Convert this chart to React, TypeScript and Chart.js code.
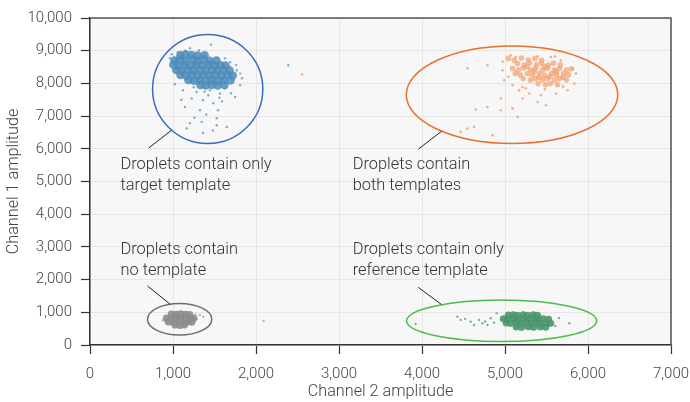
import React, { useEffect, useRef } from 'react';
import { Chart, registerables } from 'chart.js';

Chart.register(...registerables);

type Pt = [number, number];

const xAxisTitle = 'Channel 2 amplitude';
const yAxisTitle = 'Channel 1 amplitude';
const xMin = 0, xMax = 7000, xStep = 1000;
const yMin = 0, yMax = 10000, yStep = 1000;

// Target-only cluster (blue)
const targetCore: Pt[] = [
  [1090, 8860], [1150, 8880], [1222, 8870], [1296, 8850], [1380, 8860],
  [1018, 8700], [1080, 8725], [1150, 8680], [1235, 8730], [1296, 8690], [1370, 8720], [1440, 8690], [1522, 8700],
  [1005, 8570], [1065, 8540], [1140, 8575], [1212, 8540], [1282, 8568], [1355, 8540], [1430, 8570], [1500, 8545], [1572, 8555], [1632, 8545],
  [1040, 8410], [1104, 8390], [1176, 8420], [1248, 8392], [1320, 8410], [1392, 8398], [1465, 8412], [1538, 8392], [1610, 8410], [1680, 8400],
  [1090, 8255], [1160, 8235], [1225, 8260], [1298, 8240], [1370, 8258], [1442, 8240], [1515, 8262], [1586, 8236], [1658, 8256], [1720, 8240],
  [1186, 8105], [1250, 8085], [1320, 8105], [1394, 8088], [1466, 8106], [1540, 8085], [1610, 8104], [1694, 8094],
  [1330, 7950], [1395, 7935], [1466, 7955], [1538, 7935], [1620, 7950],
];
const targetScatter: Pt[] = [
  [1458, 9186], [1225, 7537], [1361, 7485], [1486, 7393], [1325, 7179], [1543, 7179], [1204, 6782], [1346, 6822],
  [1527, 6935], [1648, 6669], [1361, 6486], [1165, 6620], [1527, 6721], [1748, 7586], [1808, 7943], [1144, 7280],
  [1285, 7738], [1425, 7638], [1567, 7689], [1769, 8401], [963, 8768], [1059, 8951], [1204, 9073], [1313, 9012],
  [1627, 8768], [1688, 8646], [1120, 7790], [1023, 7973], [1832, 8157], [1627, 7851], [1446, 7790], [1400, 7050],
  [1260, 6950], [1480, 6560], [1590, 7450], [1100, 7500], [2388, 8554], [1250, 7880], [1560, 7560], [1700, 7700],
  [985, 8890], [1150, 9000], [1760, 8560], [1810, 8300], [1380, 7750],
];

// Both-templates cluster (orange)
const bothCore: Pt[] = [
  [5040, 8760], [5110, 8705], [5196, 8775], [5280, 8715], [5360, 8760], [5440, 8710],
  [5150, 8610], [5232, 8560], [5296, 8625], [5380, 8570], [5440, 8612], [5525, 8560], [5585, 8620], [5668, 8570],
  [5090, 8455], [5160, 8410], [5220, 8470], [5306, 8418], [5368, 8460], [5452, 8405], [5512, 8462], [5596, 8418], [5656, 8458], [5742, 8412], [5800, 8450],
  [5125, 8300], [5185, 8255], [5270, 8305], [5330, 8258], [5415, 8300], [5475, 8250], [5560, 8298], [5620, 8256], [5705, 8300], [5765, 8262],
  [5220, 8150], [5306, 8105], [5366, 8150], [5452, 8108], [5510, 8150], [5596, 8102], [5656, 8148], [5740, 8110],
  [5400, 7995], [5488, 7955], [5548, 7995], [5632, 7955],
  [5260, 8520], [5480, 8520], [5620, 8360], [5350, 8360], [5540, 8200], [5410, 8190], [5700, 8190],
];
const bothScatter: Pt[] = [
  [4970, 8660], [5070, 8860], [5130, 8808], [5393, 8829], [4970, 8401], [4990, 8096], [5090, 7943], [5170, 7790],
  [5211, 7537], [5393, 7433], [5493, 7332], [5614, 7689], [5755, 7790], [5835, 7995], [5855, 8300], [5815, 8453],
  [5674, 8707], [5553, 8808], [4950, 7537], [4950, 7179], [5090, 7231], [5151, 6975], [4788, 7280], [4647, 7200],
  [4547, 8462], [4788, 8554], [4627, 6669], [4547, 6620], [4466, 6517], [4849, 6416], [5291, 7689], [5432, 7638],
  [5211, 7891], [5040, 8200], [5700, 7900], [2554, 8279], [5250, 7850], [5480, 7820], [5600, 8820],
];

// No-template cluster (gray)
const noneCore: Pt[] = [
  [980, 945], [1038, 935], [1094, 952], [1150, 940], [1200, 930],
  [920, 820], [978, 835], [1034, 815], [1092, 832], [1150, 818], [1210, 830], [1250, 815],
  [944, 705], [1000, 692], [1058, 712], [1118, 696], [1178, 708], [1226, 695],
  [1025, 615], [1085, 600], [1140, 618],
];
const noneScatter: Pt[] = [
  [1325, 917], [1365, 865], [1285, 794], [1270, 930], [880, 760], [2090, 733],
];

// Reference-only cluster (green)
const refCore: Pt[] = [
  [5040, 912], [5098, 925], [5150, 905], [5220, 922], [5272, 908], [5340, 925], [5392, 905],
  [4980, 800], [5030, 785], [5098, 805], [5150, 788], [5220, 802], [5270, 785], [5340, 805], [5390, 788], [5460, 802], [5525, 785],
  [5015, 676], [5066, 662], [5135, 682], [5186, 665], [5255, 680], [5308, 662], [5376, 682], [5428, 664], [5497, 680], [5550, 662],
  [5135, 556], [5198, 545], [5280, 560], [5344, 546], [5425, 558], [5490, 548],
];
const refScatter: Pt[] = [
  [4426, 865], [4466, 764], [4587, 712], [4627, 611], [4687, 764], [4728, 663], [4788, 611], [4828, 816],
  [4868, 681], [3922, 642], [5774, 663], [5605, 580], [5650, 825], [4900, 968], [4520, 800], [4760, 720],
];

// Ellipse annotations: centre and radii in data units
const ellipseCenters: Pt[] = [[1418, 7827], [5085, 7653], [1080, 788], [4959, 739]];
const ellipseRadii: Pt[] = [[664, 1665], [1274, 1491], [387, 483], [1145, 635]];
const ellipseColors = ['#3a6dbf', '#e8702a', '#6e6e6e', '#4dbb4d'];

// Labels
const labelLines: string[][] = [
  ['Droplets contain only', 'target template'],
  ['Droplets contain', 'both templates'],
  ['Droplets contain', 'no template'],
  ['Droplets contain only', 'reference template'],
];
const labelAnchors: Pt[] = [[367, 5368], [3165, 5368], [367, 2771], [3165, 2771]];
const leaderStarts: Pt[] = [[709, 6028], [3955, 5988], [693, 1802], [3955, 1763]];
const leaderEnds: Pt[] = [[983, 6568], [4236, 6538], [963, 1253], [4233, 1243]];

const FONT = 'Roboto, "Liberation Sans", Arial, sans-serif';
const toXY = (arr: Pt[]) => arr.map(([x, y]) => ({ x, y }));

const decorPlugin = {
  id: 'decor',
  beforeDraw(chart: any) {
    const { ctx, chartArea: a } = chart;
    ctx.save();
    ctx.fillStyle = '#f7f7f7';
    ctx.fillRect(a.left, a.top, a.right - a.left, a.bottom - a.top);
    ctx.restore();
  },
  afterDatasetsDraw(chart: any) {
    const { ctx, chartArea: a } = chart;
    const xs = chart.scales.x;
    const ys = chart.scales.y;
    ctx.save();
    ctx.strokeStyle = '#555';
    ctx.lineWidth = 1.5;
    ctx.beginPath();
    ctx.moveTo(a.left, a.top);
    ctx.lineTo(a.right, a.top);
    ctx.lineTo(a.right, a.bottom);
    ctx.stroke();

    ellipseCenters.forEach(([cx, cy], i) => {
      const px = xs.getPixelForValue(cx);
      const py = ys.getPixelForValue(cy);
      const rx = Math.abs(xs.getPixelForValue(cx + ellipseRadii[i][0]) - px);
      const ry = Math.abs(ys.getPixelForValue(cy + ellipseRadii[i][1]) - py);
      ctx.beginPath();
      ctx.ellipse(px, py, rx, ry, 0, 0, Math.PI * 2);
      ctx.strokeStyle = ellipseColors[i];
      ctx.lineWidth = 1.5;
      ctx.stroke();
    });

    ctx.strokeStyle = '#222';
    ctx.lineWidth = 1;
    leaderStarts.forEach(([sx, sy], i) => {
      ctx.beginPath();
      ctx.moveTo(xs.getPixelForValue(sx), ys.getPixelForValue(sy));
      ctx.lineTo(xs.getPixelForValue(leaderEnds[i][0]), ys.getPixelForValue(leaderEnds[i][1]));
      ctx.stroke();
    });

    ctx.fillStyle = '#333';
    ctx.font = `300 16.4px ${FONT}`;
    ctx.textAlign = 'left';
    ctx.textBaseline = 'alphabetic';
    labelLines.forEach((lines, i) => {
      const lx = xs.getPixelForValue(labelAnchors[i][0]);
      const ly = ys.getPixelForValue(labelAnchors[i][1]);
      lines.forEach((t, j) => ctx.fillText(t, lx, ly + j * 20.8));
    });
    ctx.restore();
  },
};

export default function App() {
  const ref = useRef<HTMLCanvasElement | null>(null);
  useEffect(() => {
    document.body.style.margin = '0';
    const canvas = ref.current!;
    const pts = (data: Pt[], color: string, r: number) => ({
      data: toXY(data),
      backgroundColor: color,
      borderWidth: 0,
      pointRadius: r,
      pointHoverRadius: r,
    });
    const tickFont = { family: FONT, size: 15, weight: '300' as any };
    const titleFont = { family: FONT, size: 16.2, weight: '300' as any };
    const fmt = (v: any) => Number(v).toLocaleString('en-US');
    const chart = new Chart(canvas, {
      type: 'scatter',
      data: {
        datasets: [
          pts(targetScatter, 'rgba(80,140,185,0.7)', 1.2),
          pts(targetCore, 'rgba(78,140,184,0.85)', 4.3),
          pts(bothScatter, 'rgba(242,150,95,0.75)', 1.3),
          pts(bothCore, 'rgba(243,160,108,0.7)', 2.8),
          pts(noneScatter, 'rgba(140,140,140,0.6)', 1.2),
          pts(noneCore, 'rgba(140,140,140,0.9)', 3.6),
          pts(refScatter, 'rgba(76,150,108,0.7)', 1.2),
          pts(refCore, 'rgba(74,150,108,0.9)', 3.6),
        ],
      },
      options: {
        responsive: false,
        animation: false,
        events: [],
        layout: { padding: { left: 0, right: 1, top: 18, bottom: 0 } },
        plugins: { legend: { display: false }, tooltip: { enabled: false } },
        scales: {
          x: {
            type: 'linear',
            min: xMin,
            max: xMax,
            ticks: { stepSize: xStep, color: '#444', font: tickFont, padding: 11, callback: fmt, maxRotation: 0 },
            grid: { color: '#e6e6e6', lineWidth: 1, tickColor: '#333', tickLength: 9, tickWidth: 1.2 },
            border: { color: '#333', width: 1.5 },
            title: { display: true, text: xAxisTitle, color: '#444', font: titleFont, padding: { top: 1, bottom: 0 } },
            afterFit: (s: any) => { s.height = 57; s.paddingRight = 19; s.paddingLeft = 0; },
          },
          y: {
            type: 'linear',
            min: yMin,
            max: yMax,
            ticks: { stepSize: yStep, color: '#444', font: tickFont, padding: 9, callback: fmt },
            grid: { color: '#e6e6e6', lineWidth: 1, tickColor: '#333', tickLength: 9, tickWidth: 1.2 },
            border: { color: '#333', width: 1.5 },
            title: { display: true, text: yAxisTitle, color: '#444', font: titleFont, padding: { top: 4, bottom: 0 } },
            afterFit: (s: any) => { s.width = 90; },
          },
        },
      },
      plugins: [decorPlugin],
    });
    return () => chart.destroy();
  }, []);
  return <canvas ref={ref} width={690} height={402} style={{ display: 'block' }} />;
}
